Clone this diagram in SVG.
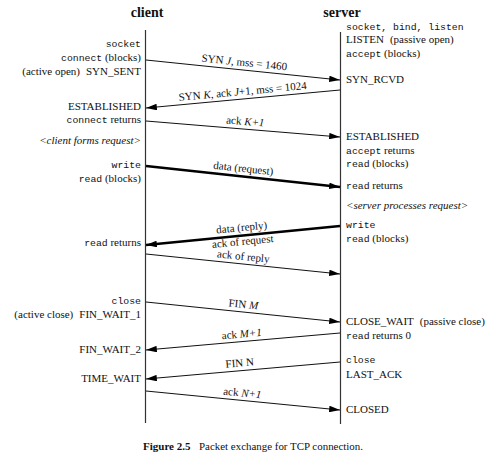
<svg xmlns="http://www.w3.org/2000/svg" width="494" height="461" viewBox="0 0 494 461">
<style>
text{font-family:"Liberation Serif","Times New Roman",serif;font-size:11px;fill:#111}
.m{font-family:"Liberation Mono","Courier New",monospace;font-size:9.8px}
.i{font-style:italic}
.h{font-weight:bold;font-size:14px}
.e{text-anchor:end}
.c{text-anchor:middle}
.tl{stroke:#333;stroke-width:1.2;fill:none}
.ar{stroke:#111;stroke-width:1;fill:none}
.tk{stroke:#000;stroke-width:2.6;fill:none}
</style>
<defs>
<marker id="ah" viewBox="0 0 10 6" refX="10" refY="3" markerWidth="11" markerHeight="6.5" orient="auto" markerUnits="userSpaceOnUse">
<path d="M0,0 L10,3 L0,6 z" fill="#000"/>
</marker>
</defs>
<rect width="494" height="461" fill="#fff"/>

<g id="client">
<text class="h c" x="147" y="17">client</text>
<line class="tl" x1="145.5" y1="30" x2="145.5" y2="423"/>
<text class="e" x="141" y="47"><tspan class="m">socket</tspan></text>
<text class="e" x="141" y="61"><tspan class="m">connect</tspan> (blocks)</text>
<text class="e" x="141" y="75">(active open)<tspan dx="6">SYN_SENT</tspan></text>
<text class="e" x="141" y="110">ESTABLISHED</text>
<text class="e" x="141" y="123"><tspan class="m">connect</tspan> returns</text>
<text class="e i" x="141" y="144">&lt;client forms request&gt;</text>
<text class="e" x="141" y="168"><tspan class="m">write</tspan></text>
<text class="e" x="141" y="182"><tspan class="m">read</tspan> (blocks)</text>
<text class="e" x="141" y="246"><tspan class="m">read</tspan> returns</text>
<text class="e" x="141" y="304"><tspan class="m">close</tspan></text>
<text class="e" x="141" y="318">(active close)<tspan dx="6">FIN_WAIT_1</tspan></text>
<text class="e" x="141" y="353">FIN_WAIT_2</text>
<text class="e" x="141" y="382">TIME_WAIT</text>
</g>

<g id="server">
<text class="h c" x="342" y="17">server</text>
<line class="tl" x1="340.5" y1="32" x2="340.5" y2="424"/>
<text x="346" y="30"><tspan class="m">socket, bind, listen</tspan></text>
<text x="346" y="43">LISTEN<tspan dx="6">(passive open)</tspan></text>
<text x="346" y="57"><tspan class="m">accept</tspan> (blocks)</text>
<text x="346" y="83">SYN_RCVD</text>
<text x="346" y="140">ESTABLISHED</text>
<text x="346" y="154"><tspan class="m">accept</tspan> returns</text>
<text x="346" y="167"><tspan class="m">read</tspan> (blocks)</text>
<text x="346" y="189"><tspan class="m">read</tspan> returns</text>
<text class="i" x="346" y="209">&lt;server processes request&gt;</text>
<text x="346" y="228"><tspan class="m">write</tspan></text>
<text x="346" y="242"><tspan class="m">read</tspan> (blocks)</text>
<text x="346" y="325">CLOSE_WAIT<tspan dx="6">(passive close)</tspan></text>
<text x="346" y="339"><tspan class="m">read</tspan> returns 0</text>
<text x="346" y="363"><tspan class="m">close</tspan></text>
<text x="346" y="378">LAST_ACK</text>
<text x="346" y="413">CLOSED</text>
</g>

<g id="connectors">
<line class="ar" x1="146" y1="60" x2="340" y2="80" marker-end="url(#ah)"/>
<text class="c" x="244" y="66" transform="rotate(5.9 244 66)">SYN <tspan class="i">J</tspan>, mss = 1460</text>

<line class="ar" x1="340" y1="90" x2="146" y2="108" marker-end="url(#ah)"/>
<text class="c" x="243" y="95" transform="rotate(-5.3 243 95)">SYN <tspan class="i">K</tspan>, ack <tspan class="i">J</tspan>+1, mss = 1024</text>

<line class="ar" x1="146" y1="121" x2="340" y2="137" marker-end="url(#ah)"/>
<text class="c" x="245" y="125" transform="rotate(4.7 245 125)">ack <tspan class="i">K+1</tspan></text>

<line class="tk" x1="146" y1="166" x2="340" y2="187" marker-end="url(#ah)"/>
<text class="c" x="243" y="172" transform="rotate(6.2 243 172)">data (request)</text>

<line class="tk" x1="340" y1="226" x2="146" y2="245" marker-end="url(#ah)"/>
<text class="c" x="242" y="231" transform="rotate(-5.6 242 231)">data (reply)</text>
<text class="c" x="243" y="245" transform="rotate(-5.6 243 245)">ack of request</text>

<line class="ar" x1="146" y1="254" x2="340" y2="274" marker-end="url(#ah)"/>
<text class="c" x="243" y="260" transform="rotate(5.9 243 260)">ack of reply</text>

<line class="ar" x1="146" y1="302" x2="340" y2="322" marker-end="url(#ah)"/>
<text class="c" x="243" y="308" transform="rotate(5.9 243 308)">FIN <tspan class="i">M</tspan></text>

<line class="ar" x1="340" y1="333" x2="146" y2="350" marker-end="url(#ah)"/>
<text class="c" x="242" y="337.5" transform="rotate(-5 242 337.5)">ack <tspan class="i">M+1</tspan></text>

<line class="ar" x1="340" y1="362" x2="146" y2="379" marker-end="url(#ah)"/>
<text class="c" x="240" y="366.5" transform="rotate(-5 240 366.5)">FIN N</text>

<line class="ar" x1="146" y1="391" x2="340" y2="410" marker-end="url(#ah)"/>
<text class="c" x="242" y="396.5" transform="rotate(5.6 242 396.5)">ack <tspan class="i">N+1</tspan></text>
</g>

<g id="caption">
<text x="143" y="450" style="font-weight:bold">Figure 2.5</text>
<text x="199" y="450" textLength="164" lengthAdjust="spacingAndGlyphs">Packet exchange for TCP connection.</text>
</g>
</svg>
